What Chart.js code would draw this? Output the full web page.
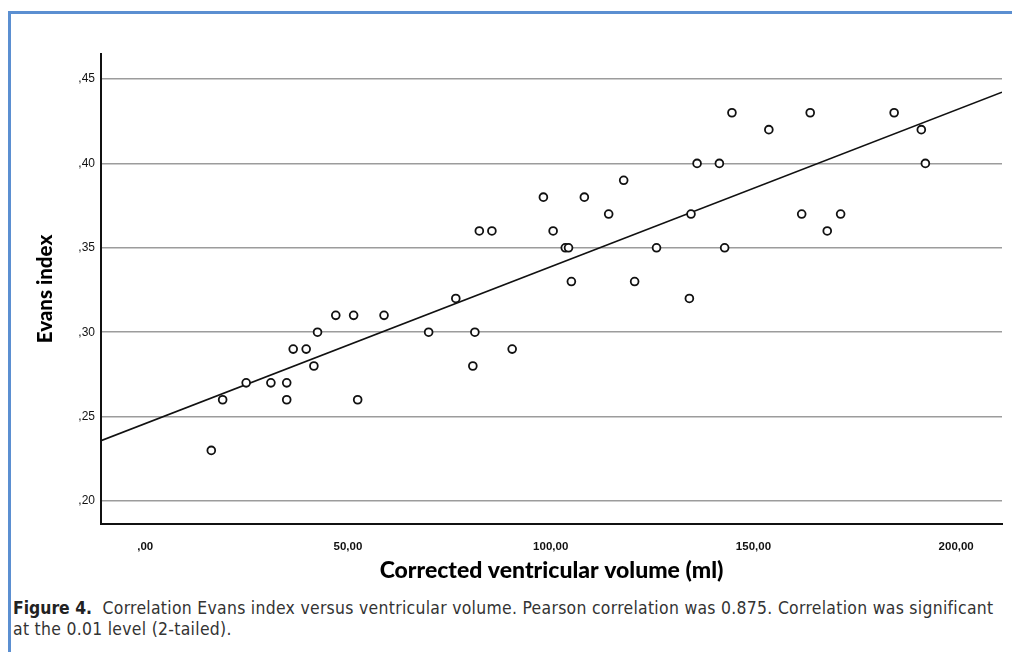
<!DOCTYPE html>
<html>
<head>
<meta charset="utf-8">
<script src="https://cdn.jsdelivr.net/npm/chart.js@4/dist/chart.umd.min.js"></script>
<style>
  body { margin: 0; background: #fff; width: 1012px; height: 652px; overflow: hidden; position: relative; }
  .frame { position: absolute; left: 8px; top: 11px; width: 1100px; height: 700px;
           border-top: 3px solid #5b8fd1; border-left: 3px solid #5b8fd1; }
  #wrap { position: absolute; left: 0; top: 0; width: 1012px; height: 595px; }
  .caption { position: absolute; left: 13px; top: 598px; width: 995px; white-space: nowrap;
             font-family: "DejaVu Sans Condensed", "Liberation Sans Narrow", sans-serif;
             font-size: 17.4px; letter-spacing: 0.3px; line-height: 21px; color: #333; }
  .caption b { color: #222; letter-spacing: 0; }
</style>
</head>
<body>
<div class="frame"></div>
<div id="wrap"><canvas id="evansChart" width="1012" height="595"></canvas></div>
<div class="caption"><b>Figure 4.</b>&nbsp; Correlation Evans index versus ventricular volume. Pearson correlation was 0.875. Correlation was significant<br>at the 0.01 level (2-tailed).</div>

<script>
// ventricular volume (ml) and Evans index
const volume = [
    144.7, 164.0, 184.7,
    153.8, 191.4,
    136.1, 141.6, 192.4,
    118.0,
    98.2, 108.3,
    114.3, 134.6, 161.9, 171.5,
    82.4, 85.5, 100.6, 168.2,
    103.6, 104.4, 126.1, 142.9,
    105.1, 120.7,
    76.6, 134.2,
    47.0, 51.4, 58.9,
    42.5, 69.9, 81.3,
    36.5, 39.7, 90.5,
    41.6, 80.8,
    24.9, 31.0, 34.9,
    19.1, 34.9, 52.4,
    16.3
];
const evans = [
    .43, .43, .43,
    .42, .42,
    .40, .40, .40,
    .39,
    .38, .38,
    .37, .37, .37, .37,
    .36, .36, .36, .36,
    .35, .35, .35, .35,
    .33, .33,
    .32, .32,
    .31, .31, .31,
    .30, .30, .30,
    .29, .29, .29,
    .28, .28,
    .27, .27, .27,
    .26, .26, .26,
    .23
];

// fit line (linear regression as drawn)
const fitIntercept = 0.2459;
const fitSlope = 0.000929;

const xRange = [-10.9, 211.3];
const yRange = [0.1864, 0.4648];
const xTicks = [0, 50, 100, 150, 200];
const xTickLabels = [',00', '50,00', '100,00', '150,00', '200,00'];
const yTicks = [.20, .25, .30, .35, .40, .45];
const yTickLabels = [',20', ',25', ',30', ',35', ',40', ',45'];

const points = volume.map((v, i) => ({ x: v, y: evans[i] }));
const fitLine = xRange.map(x => ({ x: x, y: fitIntercept + fitSlope * x }));

const ctx = document.getElementById('evansChart');

new Chart(ctx, {
    type: 'scatter',
    data: {
        datasets: [{
            data: points,
            pointRadius: 3.9,
            pointBorderWidth: 1.8,
            borderColor: '#111',
            backgroundColor: '#fff',
            order: 0
        }, {
            type: 'line',
            data: fitLine,
            borderColor: '#111',
            borderWidth: 1.6,
            pointRadius: 0,
            fill: false,
            order: 1
        }]
    },
    options: {
        responsive: false,
        animation: false,
        layout: { padding: { top: 54, right: 10, left: 0, bottom: 0 } },
        plugins: { legend: { display: false }, tooltip: { enabled: false } },
        scales: {
            x: {
                type: 'linear',
                min: xRange[0],
                max: xRange[1],
                afterBuildTicks: s => { s.ticks = xTicks.map(v => ({ value: v })); },
                afterFit: s => { s.height = 71; },
                grid: { display: false },
                border: { display: true, color: '#111', width: 2 },
                ticks: {
                    padding: 8,
                    color: '#111',
                    font: { family: 'Liberation Sans', size: 11.5, weight: 'bold' },
                    callback: (v) => xTickLabels[xTicks.indexOf(v)]
                },
                title: {
                    display: true,
                    text: 'Corrected ventricular volume (ml)',
                    color: '#000',
                    font: { family: 'Lato', size: 23, weight: '900' },
                    padding: { bottom: 11 }
                }
            },
            y: {
                min: yRange[0],
                max: yRange[1],
                afterBuildTicks: s => { s.ticks = yTicks.map(v => ({ value: v })); },
                afterFit: s => { s.width = 101; },
                grid: { color: '#9c9c9c', lineWidth: 1.5, drawTicks: false },
                border: { display: true, color: '#111', width: 2 },
                ticks: {
                    padding: 6,
                    color: '#111',
                    font: { family: 'Liberation Sans', size: 12 },
                    callback: (v) => yTickLabels[yTicks.indexOf(v)]
                },
                title: {
                    display: true,
                    text: 'Evans index',
                    color: '#000',
                    font: { family: 'Lato', size: 20.5, weight: '900' },
                    padding: { top: 33 }
                }
            }
        }
    }
});
</script>
</body>
</html>
